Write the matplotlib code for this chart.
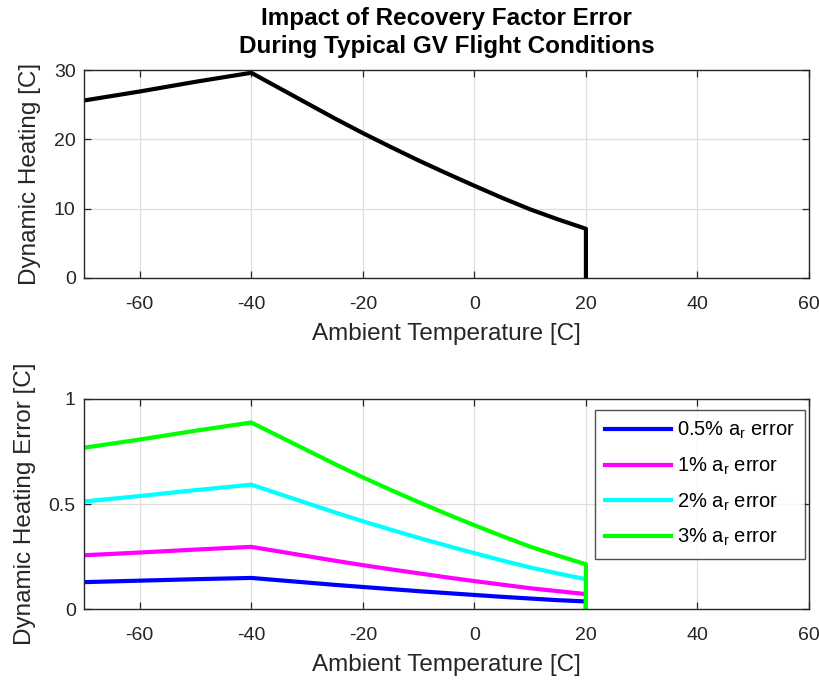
import matplotlib
matplotlib.use("Agg")
import matplotlib.pyplot as plt

plt.rcParams['font.family'] = ['Liberation Sans', 'DejaVu Sans']
plt.rcParams['mathtext.fontset'] = 'custom'
plt.rcParams['mathtext.rm'] = 'Liberation Sans'
plt.rcParams['mathtext.it'] = 'Liberation Sans'
plt.rcParams['axes.unicode_minus'] = False

# Ambient temperature profile [C]
temp = [-70, -60, -50, -40, -35, -30, -25, -20, -15, -10, -5, 0, 5, 10, 15, 20, 20]

# Dynamic heating along the flight profile [C]
heating = [25.6, 26.9, 28.3, 29.6, 27.4, 25.2, 23.0, 20.9, 18.9, 16.95, 15.1,
           13.3, 11.55, 9.9, 8.45, 7.1, 0.0]

# Dynamic heating error for each recovery-factor error [C]
err_05 = [0.128, 0.135, 0.142, 0.148, 0.137, 0.126, 0.115, 0.105, 0.095, 0.085,
          0.076, 0.067, 0.058, 0.050, 0.042, 0.036, 0.0]
err_1 = [0.256, 0.269, 0.283, 0.296, 0.274, 0.252, 0.230, 0.209, 0.189, 0.170,
         0.151, 0.133, 0.116, 0.099, 0.085, 0.071, 0.0]
err_2 = [0.512, 0.538, 0.566, 0.592, 0.548, 0.504, 0.460, 0.418, 0.378, 0.339,
         0.302, 0.266, 0.231, 0.198, 0.169, 0.142, 0.0]
err_3 = [0.768, 0.807, 0.849, 0.888, 0.822, 0.756, 0.690, 0.627, 0.567, 0.509,
         0.453, 0.399, 0.347, 0.297, 0.254, 0.213, 0.0]

series = [err_05, err_1, err_2, err_3]
labels = [r'0.5% a$_\mathregular{r}$ error', r'1% a$_\mathregular{r}$ error',
          r'2% a$_\mathregular{r}$ error', r'3% a$_\mathregular{r}$ error']
colors = ['#0000ff', '#ff00ff', '#00ffff', '#00ff00']

x_ticks = [-60, -40, -20, 0, 20, 40, 60]
top_yticks = [0, 10, 20, 30]
bot_yticks = [0, 0.5, 1]
bot_yticklabels = ['0', '0.5', '1']

fig = plt.figure(figsize=(8.2, 6.81), dpi=100)
ax1 = fig.add_axes([0.1024, 0.5918, 0.8842, 0.3054])
ax2 = fig.add_axes([0.1024, 0.1057, 0.8842, 0.3084])

edge = '#262626'
for ax in (ax1, ax2):
    ax.set_xlim(-70, 60)
    ax.set_xticks(x_ticks)
    ax.grid(True, color='#dedede', linewidth=0.9)
    ax.set_axisbelow(True)
    ax.tick_params(direction='in', top=True, right=True, length=5,
                   width=0.9, color=edge, labelcolor=edge, labelsize=14)
    ax.tick_params(axis='x', pad=13)
    ax.tick_params(axis='y', pad=6)
    for sp in ax.spines.values():
        sp.set_color(edge)
        sp.set_linewidth(1.0)
    ax.set_xlabel('Ambient Temperature [C]', fontsize=17.5, color=edge, labelpad=7)

ax1.plot(temp, heating, color='black', linewidth=3.0)
ax1.set_ylim(0, 30)
ax1.set_yticks(top_yticks)
ax1.set_ylabel('Dynamic Heating [C]', fontsize=17.5, color=edge, labelpad=9)
ax1.set_title('Impact of Recovery Factor Error\nDuring Typical GV Flight Conditions',
              fontsize=17.5, fontweight='bold', color='black', pad=12, linespacing=1.3)

for vals, lab, col in zip(series, labels, colors):
    ax2.plot(temp, vals, color=col, linewidth=3.0, label=lab)
ax2.set_ylim(0, 1)
ax2.set_yticks(bot_yticks)
ax2.set_yticklabels(bot_yticklabels)
ax2.set_ylabel('Dynamic Heating Error [C]', fontsize=17.5, color=edge, labelpad=9)
leg = ax2.legend(loc='upper right', bbox_to_anchor=(0.9945, 0.949), fontsize=14.5,
                 frameon=True, fancybox=False, edgecolor=edge, handlelength=3.3,
                 borderpad=0.5, labelspacing=0.72, handletextpad=0.3,
                 borderaxespad=0.0)
leg.get_frame().set_linewidth(1.0)

fig.savefig('out.png', dpi=100)
